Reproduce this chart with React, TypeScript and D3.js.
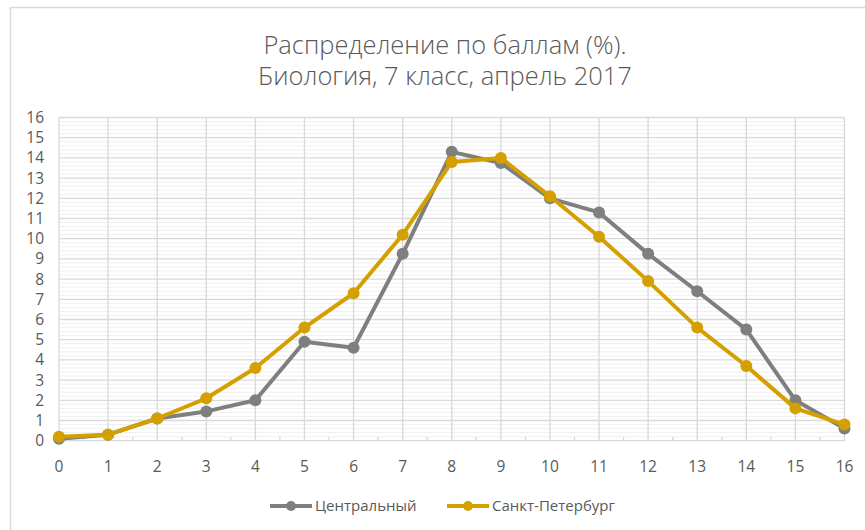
import React, { useEffect, useRef } from "react";
import * as d3 from "d3";

// Score distribution (%) by region
const scores = [0, 1, 2, 3, 4, 5, 6, 7, 8, 9, 10, 11, 12, 13, 14, 15, 16];
const central = [0.1, 0.3, 1.1, 1.45, 2.0, 4.9, 4.6, 9.25, 14.3, 13.75, 12.0, 11.3, 9.25, 7.4, 5.5, 2.0, 0.6];
const spb = [0.2, 0.3, 1.1, 2.1, 3.6, 5.6, 7.3, 10.2, 13.8, 14.0, 12.1, 10.1, 7.9, 5.6, 3.7, 1.6, 0.8];
const yTicks = d3.range(0, 17);
const seriesNames = ["Центральный", "Санкт-Петербург"];
const seriesColors = ["#7f7f7f", "#d4a000"];
const titleLines = ["Распределение по баллам (%).", "Биология, 7 класс, апрель 2017"];

const W = 865;
const H = 530;
const FONT = "'Open Sans', sans-serif";

export default function App() {
  const ref = useRef<SVGSVGElement | null>(null);

  useEffect(() => {
    const svg = d3.select(ref.current);
    svg.selectAll("*").remove();

    const x = d3.scaleLinear().domain([0, 16]).range([59, 844.5]);
    const y = d3.scaleLinear().domain([0, 16]).range([440.7, 117.5]);

    svg.append("rect").attr("width", W).attr("height", H).attr("fill", "#fff");

    // chart frame
    svg.append("path")
      .attr("d", `M10.5,${H} V7.5 H${W}`)
      .attr("fill", "none")
      .attr("stroke", "#d9d9d9")
      .attr("stroke-width", 1.5);

    // title
    const title = svg.append("text")
      .attr("text-anchor", "middle")
      .attr("fill", "#595959")
      .attr("font-family", FONT)
      .attr("font-weight", 300)
      .attr("font-size", 25.5);
    titleLines.forEach((t, i) => {
      title.append("tspan").attr("x", 445).attr("y", 54 + i * 31).text(t);
    });

    const g = svg.append("g");

    // minor horizontal gridlines
    const minor = d3.range(0, 16.001, 0.2).filter((v) => Math.abs(v - Math.round(v)) > 1e-6);
    g.selectAll(".minor")
      .data(minor)
      .join("line")
      .attr("x1", x(0)).attr("x2", x(16))
      .attr("y1", (d) => y(d)).attr("y2", (d) => y(d))
      .attr("stroke", "#f0f0f0").attr("stroke-width", 1);

    // major horizontal gridlines
    g.selectAll(".hmajor")
      .data(yTicks)
      .join("line")
      .attr("x1", x(0)).attr("x2", x(16))
      .attr("y1", (d) => y(d)).attr("y2", (d) => y(d))
      .attr("stroke", "#d9d9d9").attr("stroke-width", 1.3);

    // vertical gridlines
    g.selectAll(".vmajor")
      .data(scores)
      .join("line")
      .attr("x1", (d) => x(d)).attr("x2", (d) => x(d))
      .attr("y1", y(16)).attr("y2", y(0))
      .attr("stroke", "#d9d9d9").attr("stroke-width", 1.3);

    // minor ticks between categories
    g.selectAll(".mtick")
      .data(scores.slice(0, -1).map((s) => s + 0.5))
      .join("line")
      .attr("x1", (d) => x(d)).attr("x2", (d) => x(d))
      .attr("y1", y(0) - 4).attr("y2", y(0))
      .attr("stroke", "#d9d9d9").attr("stroke-width", 1.3);

    // y labels
    g.selectAll(".ylab")
      .data(yTicks)
      .join("text")
      .attr("x", 44)
      .attr("y", (d) => y(d))
      .attr("dy", "0.35em")
      .attr("text-anchor", "end")
      .attr("fill", "#595959")
      .attr("font-family", FONT)
      .attr("font-size", 15.5)
      .text((d) => d);

    // x labels
    g.selectAll(".xlab")
      .data(scores)
      .join("text")
      .attr("x", (d) => x(d))
      .attr("y", 467)
      .attr("dy", "0.35em")
      .attr("text-anchor", "middle")
      .attr("fill", "#595959")
      .attr("font-family", FONT)
      .attr("font-size", 15.5)
      .text((d) => d);

    // series
    const line = d3.line<number>().x((_, i) => x(scores[i])).y((d) => y(d));
    [central, spb].forEach((vals, si) => {
      const c = seriesColors[si];
      g.append("path")
        .attr("d", line(vals))
        .attr("fill", "none")
        .attr("stroke", c)
        .attr("stroke-width", 4)
        .attr("stroke-linejoin", "round");
      g.selectAll(`.pt${si}`)
        .data(vals)
        .join("circle")
        .attr("cx", (_, i) => x(scores[i]))
        .attr("cy", (d) => y(d))
        .attr("r", 6)
        .attr("fill", c);
    });

    // legend
    const legendItems = [
      { name: seriesNames[0], color: seriesColors[0], x0: 270 },
      { name: seriesNames[1], color: seriesColors[1], x0: 447 },
    ];
    legendItems.forEach((it) => {
      const lg = svg.append("g").attr("transform", `translate(${it.x0},506)`);
      lg.append("line").attr("x1", 0).attr("x2", 42).attr("y1", 0).attr("y2", 0)
        .attr("stroke", it.color).attr("stroke-width", 4);
      lg.append("circle").attr("cx", 21).attr("cy", 0).attr("r", 5).attr("fill", it.color);
      lg.append("text")
        .attr("x", 45).attr("y", 0).attr("dy", "0.35em")
        .attr("fill", "#595959")
        .attr("font-family", FONT)
        .attr("font-size", 15)
        .text(it.name);
    });
  }, []);

  return (
    <svg ref={ref} width={W} height={H} style={{ position: "absolute", left: 0, top: 0, display: "block" }} />
  );
}
